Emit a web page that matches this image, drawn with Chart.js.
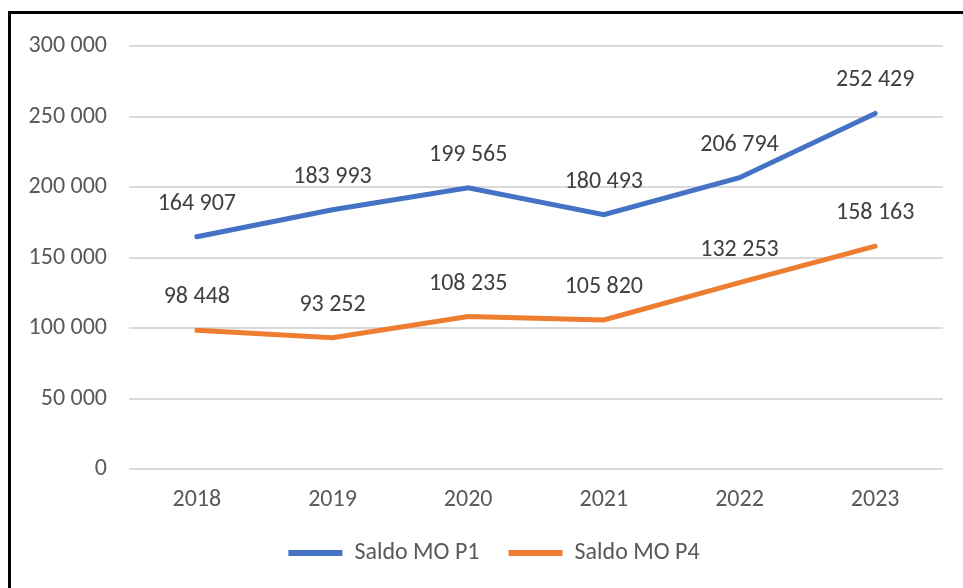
<!DOCTYPE html>
<html>
<head>
<meta charset="utf-8">
<script src="https://cdn.jsdelivr.net/npm/chart.js@4/dist/chart.umd.min.js"></script>
<style>
  html, body { margin: 0; padding: 0; background: #fff; overflow: hidden; }
  #frame {
    position: absolute; left: 8px; top: 11px;
    width: 960px; height: 574px;
    border-left: 3px solid #000; border-top: 3px solid #000;
  }
  canvas { display: block; position: relative; top: -4px; }
</style>
</head>
<body>
<div id="frame"><canvas id="chart" width="960" height="578"></canvas></div>
<script>
const years = ["2018", "2019", "2020", "2021", "2022", "2023"];
const saldoP1 = [164907, 183993, 199565, 180493, 206794, 252429];
const saldoP4 = [98448, 93252, 108235, 105820, 132253, 158163];

const fmt = (v) => String(Math.round(v)).replace(/\B(?=(\d{3})+(?!\d))/g, " ");
const FONT = "Carlito, Calibri, 'Liberation Sans', sans-serif";

// simple value labels drawn above each point
const pointLabels = {
    id: "pointLabels",
    afterDatasetsDraw(chart) {
        const ctx = chart.ctx;
        ctx.save();
        ctx.font = "24px " + FONT;
        ctx.fillStyle = "#404040";
        ctx.textAlign = "center";
        ctx.textBaseline = "middle";
        chart.data.datasets.forEach((ds, i) => {
            chart.getDatasetMeta(i).data.forEach((pt, j) => {
                ctx.fillText(fmt(ds.data[j]), pt.x, pt.y - 33);
            });
        });
        ctx.restore();
    }
};

// nudge legend a bit to the right, like the original
const legendShift = {
    id: "legendShift",
    afterLayout(chart) {
        chart.legend.left += 17;
        chart.legend.right += 17;
    }
};

const ctx = document.getElementById("chart").getContext("2d");
new Chart(ctx, {
    type: "line",
    data: {
        labels: years,
        datasets: [{
            label: "Saldo MO P1",
            data: saldoP1,
            borderColor: "#4472C4",
            backgroundColor: "#4472C4",
            borderWidth: 5,
            pointRadius: 0,
            borderCapStyle: "round",
        }, {
            label: "Saldo MO P4",
            data: saldoP4,
            borderColor: "#ED7D31",
            backgroundColor: "#ED7D31",
            borderWidth: 5,
            pointRadius: 0,
            borderCapStyle: "round",
        }]
    },
    options: {
        responsive: false,
        animation: false,
        layout: { padding: { left: 0, right: 28, top: 13, bottom: 13 } },
        plugins: {
            tooltip: { enabled: false },
            legend: {
                position: "bottom",
                labels: {
                    font: { size: 24, family: FONT },
                    color: "#595959",
                    boxWidth: 54,
                    boxHeight: 6,
                    padding: 29,
                    generateLabels(chart) {
                        return chart.data.datasets.map((ds, i) => ({
                            text: ds.label,
                            fillStyle: ds.borderColor,
                            strokeStyle: ds.borderColor,
                            lineWidth: 0,
                            datasetIndex: i,
                            fontColor: "#595959"
                        }));
                    }
                }
            }
        },
        scales: {
            x: {
                offset: true,
                afterFit(scale) { scale.height = 43; },
                grid: { display: false, drawTicks: false },
                border: { display: false },
                ticks: { font: { size: 24, family: FONT }, color: "#595959", padding: 17 }
            },
            y: {
                min: 0, max: 300000,
                afterFit(scale) { scale.width = 118; },
                grid: { color: "#D9D9D9", lineWidth: 2, drawTicks: false },
                border: { display: false },
                ticks: {
                    stepSize: 50000,
                    font: { size: 24, family: FONT },
                    color: "#595959",
                    padding: 22,
                    callback: (v) => fmt(v)
                }
            }
        }
    },
    plugins: [pointLabels, legendShift]
});
</script>
</body>
</html>
